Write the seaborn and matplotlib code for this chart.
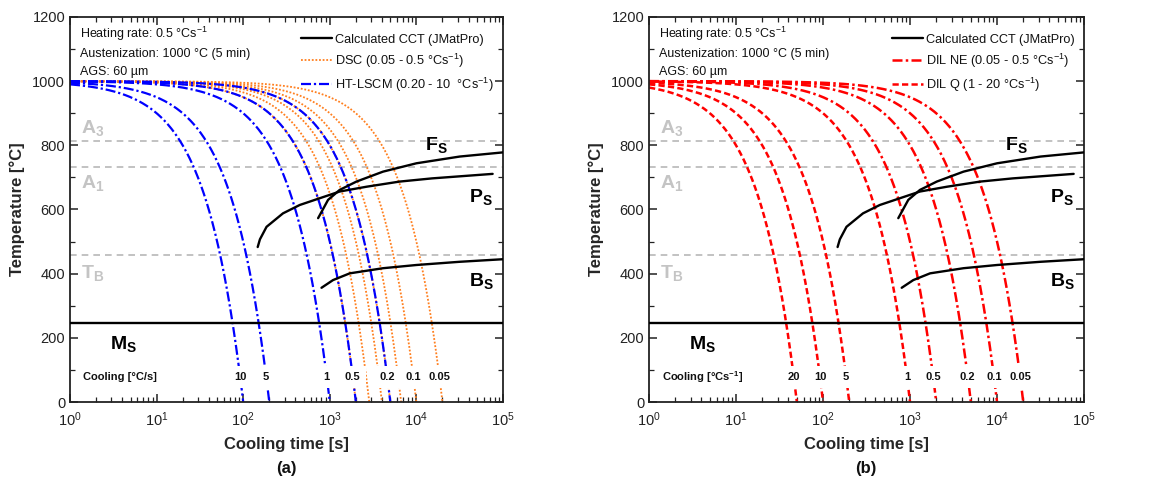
"""
CCT diagram: measured cooling curves over the calculated (JMatPro) CCT.
(a) DSC + HT-LSCM, (b) dilatometry.
"""

import numpy as np
import pandas as pd
import matplotlib
matplotlib.use("Agg")
import matplotlib.pyplot as plt
from matplotlib.lines import Line2D
import matplotlib.ticker as mticker
import seaborn as sns

# ── Data ───────────────────────────────────────────────────────────────────────
T_AUST = 1000            # austenitisation temperature [°C]

HTLSCM_RATES = [10, 5, 1, 0.5, 0.2]
DSC_RATES    = [0.5, 0.35, 0.25, 0.2, 0.15, 0.1, 0.05]
DILQ_RATES   = [20, 10, 5, 1]
DILNE_RATES  = [0.5, 0.2, 0.1, 0.05]

LABELS_A = ["10", "5", "1", "0.5", "0.2", "0.1", "0.05"]
LABELS_B = ["20", "10", "5", "1", "0.5", "0.2", "0.1", "0.05"]

# calculated CCT (JMatPro)
FS_TIME = [733, 955, 1300, 2030, 4120, 10000, 31600, 100000]
FS_TEMP = [573, 630, 661, 687, 718, 744, 765, 778]
PS_TIME = [147, 156, 186, 288, 449, 763, 1300, 2660, 6400, 15200, 76000]
PS_TEMP = [483, 507, 546, 588, 614, 635, 656, 671, 687, 697, 711]
BS_TIME = [802, 1090, 1700, 4120, 10000, 31600, 100000]
BS_TEMP = [356, 380, 401, 417, 427, 437, 445]
MS_TEMP = 245

A3_TEMP, A1_TEMP, TB_TEMP = 813, 731, 458

# ── Style ──────────────────────────────────────────────────────────────────────
sns.set_theme(style="ticks")
plt.rcParams.update({
    "font.family": ["Liberation Sans", "DejaVu Sans"],
    "mathtext.fontset": "custom",
    "mathtext.rm": "Liberation Sans",
    "mathtext.it": "Liberation Sans:italic",
    "mathtext.bf": "Liberation Sans:bold",
    "axes.edgecolor": "#222222",
    "axes.linewidth": 1.3,
    "xtick.color": "#222222", "ytick.color": "#222222",
    "text.color": "#111111",
})

BLUE, ORANGE, RED = "#0000ff", "#ff7f1e", "#ff0000"
GREY_LINE, GREY_TXT = "#b8b8b8", "#c4c4c4"
LS_BLUE  = (0, (4.5, 1.3, 1, 1.3))
LS_DOT   = (0, (1, 1))
LS_DASH  = (0, (2.5, 1.3))
LS_DDOT  = (0, (4, 1.3, 1, 1.3))


def cooling_curve(rate):
    """Constant-rate cooling from T_AUST down to 0 °C."""
    t = np.logspace(0, np.log10(T_AUST / rate), 300)
    return pd.DataFrame({"t": t, "T": T_AUST - rate * t})


def draw_cooling(ax, rates, color, ls, lw):
    for r in rates:
        d = cooling_curve(r)
        sns.lineplot(data=d, x="t", y="T", ax=ax, color=color, linestyle=ls,
                     lw=lw, sort=False, estimator=None, zorder=2)


def draw_cct(ax):
    for tt, TT in [(FS_TIME, FS_TEMP), (PS_TIME, PS_TEMP), (BS_TIME, BS_TEMP)]:
        sns.lineplot(x=tt, y=TT, ax=ax, color="black", lw=1.7,
                     sort=False, estimator=None, zorder=3)
    ax.axhline(MS_TEMP, color="black", lw=1.7, zorder=3)
    for T in (A3_TEMP, A1_TEMP, TB_TEMP):
        ax.axhline(T, color=GREY_LINE, lw=1.2, ls=(0, (4, 3)), zorder=1)

    kw = dict(fontsize=14, fontweight="bold", color=GREY_TXT, va="center")
    ax.text(1.35, 855, r"A$_\mathbf{3}$", **kw)
    ax.text(1.35, 683, r"A$_\mathbf{1}$", **kw)
    ax.text(1.35, 402, r"T$_\mathbf{B}$", **kw)

    kw = dict(fontsize=14, fontweight="bold", color="black", va="center")
    ax.text(12500, 800, r"F$_\mathbf{S}$", **kw)
    ax.text(41000, 640, r"P$_\mathbf{S}$", **kw)
    ax.text(41000, 378, r"B$_\mathbf{S}$", **kw)
    ax.text(2.9, 180, r"M$_\mathbf{S}$", **kw)


def draw_rate_labels(ax, rates, labels, title):
    box = dict(boxstyle="square,pad=0.5", fc="white", ec="none")
    for r, lab in zip(rates, labels):
        ax.text((T_AUST - 78) / r, 78, lab, ha="center", va="center",
                fontsize=8, fontweight="bold", bbox=box, zorder=5)
    ax.text(1.42, 78, title, ha="left", va="center", fontsize=8,
            fontweight="bold", zorder=5)


def style_axes(ax):
    ax.set_xscale("log")
    ax.set_xlim(1, 1e5)
    ax.set_ylim(0, 1200)
    ax.yaxis.set_major_locator(mticker.MultipleLocator(200))
    ax.yaxis.set_minor_locator(mticker.MultipleLocator(100))
    ax.xaxis.set_minor_locator(mticker.LogLocator(base=10, subs=np.arange(2, 10)))
    ax.xaxis.set_minor_formatter(mticker.NullFormatter())
    ax.tick_params(which="both", direction="in", top=True, right=True,
                   labelsize=10.5)
    ax.tick_params(axis="x", which="major", pad=6)
    ax.tick_params(which="major", length=6, width=1.1)
    ax.tick_params(which="minor", length=3.5, width=0.9)
    ax.set_xlabel("Cooling time [s]", fontsize=12, fontweight="bold", labelpad=6)
    ax.set_ylabel("Temperature [°C]", fontsize=12, fontweight="bold", labelpad=5)
    for y, s in [(0.955, r"Heating rate: 0.5 °Cs$^{-1}$"),
                 (0.905, "Austenization: 1000 °C (5 min)"),
                 (0.857, "AGS: 60 µm")]:
        ax.text(0.023, y, s, transform=ax.transAxes, fontsize=9, va="center")


def add_legend(ax, handles):
    ax.legend(handles=handles, loc="upper right", bbox_to_anchor=(1.0, 0.98),
              frameon=False, fontsize=9.2, handlelength=2.4,
              handletextpad=0.25, labelspacing=0.45, borderpad=0.2)


# ── Figure ─────────────────────────────────────────────────────────────────────
fig = plt.figure(figsize=(11.52, 4.8), dpi=100)
ax_a = fig.add_axes([0.0608, 0.1625, 0.3758, 0.8021])
ax_b = fig.add_axes([0.5634, 0.1625, 0.3776, 0.8021])

# (a) DSC + HT-LSCM
draw_cooling(ax_a, DSC_RATES, ORANGE, LS_DOT, 1.3)
draw_cooling(ax_a, HTLSCM_RATES, BLUE, LS_BLUE, 1.6)
draw_cct(ax_a)
draw_rate_labels(ax_a, [10, 5, 1, 0.5, 0.2, 0.1, 0.05], LABELS_A, "Cooling [°C/s]")
style_axes(ax_a)
add_legend(ax_a, [
    Line2D([], [], color="black", lw=1.7, label="Calculated CCT (JMatPro)"),
    Line2D([], [], color=ORANGE, lw=1.3, ls=LS_DOT, label=r"DSC (0.05 - 0.5 °Cs$^{-1}$)"),
    Line2D([], [], color=BLUE, lw=1.6, ls=LS_BLUE, label=r"HT-LSCM (0.20 - 10  °Cs$^{-1}$)"),
])

# (b) dilatometry
draw_cooling(ax_b, DILQ_RATES, RED, LS_DASH, 1.8)
draw_cooling(ax_b, DILNE_RATES, RED, LS_DDOT, 1.8)
draw_cct(ax_b)
draw_rate_labels(ax_b, [20, 10, 5, 1, 0.5, 0.2, 0.1, 0.05], LABELS_B,
                 r"Cooling [°Cs$^{\mathbf{-1}}$]")
style_axes(ax_b)
add_legend(ax_b, [
    Line2D([], [], color="black", lw=1.7, label="Calculated CCT (JMatPro)"),
    Line2D([], [], color=RED, lw=1.8, ls=LS_DDOT, label=r"DIL NE (0.05 - 0.5 °Cs$^{-1}$)"),
    Line2D([], [], color=RED, lw=1.8, ls=LS_DASH, label=r"DIL Q (1 - 20 °Cs$^{-1}$)"),
])

fig.text(0.249, 0.025, "(a)", ha="center", va="center", fontsize=12, fontweight="bold")
fig.text(0.752, 0.025, "(b)", ha="center", va="center", fontsize=12, fontweight="bold")

fig.savefig("out.png", dpi=100)
